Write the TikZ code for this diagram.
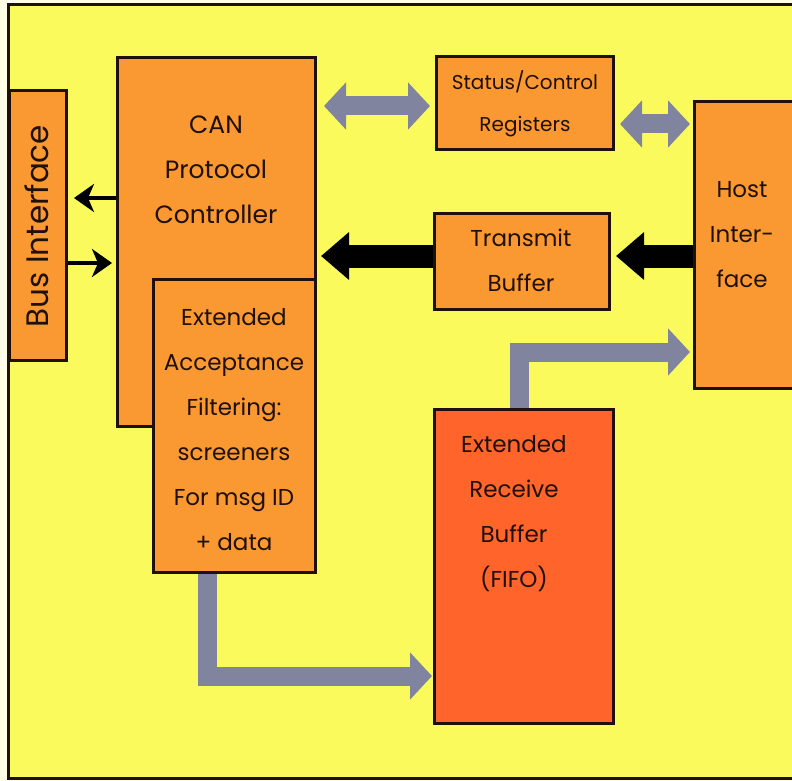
\documentclass[tikz,border=0pt]{standalone}
\usepackage{fontspec}
\setmainfont{Poppins}
\usetikzlibrary{arrows.meta,calc}
\definecolor{cream}{RGB}{255,255,232}
\definecolor{bgyellow}{RGB}{250,250,92}
\definecolor{boxorange}{RGB}{250,152,50}
\definecolor{fifored}{RGB}{255,100,42}
\definecolor{arrowgray}{RGB}{128,132,158}
\definecolor{edge}{RGB}{32,16,10}
\pgfdeclarelayer{back}
\pgfdeclarelayer{mid}
\pgfsetlayers{back,mid,main}
\tikzset{
  box/.style={draw=edge, line width=3pt, fill=boxorange, anchor=north west, inner sep=0pt},
  lbl/.style={align=center, inner sep=0pt, text=edge, font=\fontsize{23}{45}\selectfont},
  biglbl/.style={align=center, inner sep=0pt, text=edge, font=\fontsize{25}{45}\selectfont},
  smalllbl/.style={align=center, inner sep=0pt, text=edge, font=\fontsize{20}{42}\selectfont},
  sidelbl/.style={align=center, inner sep=0pt, text=edge, font=\fontsize{31}{40}\selectfont},
  grayflow/.style={draw=arrowgray, line width=19pt, line join=miter},
  blackflow/.style={draw=black, line width=23pt},
  thinflow/.style={draw=black, line width=4.5pt},
  gtip/.tip={Triangle[length=22pt,width=46pt]},
  btip/.tip={Triangle[length=28pt,width=46pt]},
  stip/.tip={Stealth[length=20pt,width=28pt,inset=6pt]}
}
\begin{document}
\begin{tikzpicture}[x=1pt,y=-1pt]
\useasboundingbox (0,0) rectangle (792,781);
\begin{pgfonlayer}{back}
\fill[cream] (0,0) rectangle (792,781);
\fill[bgyellow] (8,5) rectangle (792,778);
\draw[edge, line width=3pt] (800,5) -- (8,5) -- (8,778) -- (800,778);
\end{pgfonlayer}

% boxes
\node[box, minimum width=57pt, minimum height=270pt] (bus) at (8,89) {};
\node[box, minimum width=198pt, minimum height=369pt] (can) at (116,56) {};
\node[box, minimum width=162pt, minimum height=293pt] (acc) at (152,278) {};
\node[box, minimum width=177pt, minimum height=93pt] (reg) at (435,55) {};
\node[box, minimum width=175pt, minimum height=96pt] (tx) at (433,212) {};
\node[box, minimum width=120pt, minimum height=287pt] (host) at (693,100) {};
\node[box, fill=fifored, minimum width=179pt, minimum height=314pt] (fifo) at (433,408) {};

% labels
\node[sidelbl, rotate=90] (bustxt) at (37,226) {Bus Interface};
\node[biglbl] (cantxt) at (216,170) {CAN\\Protocol\\Controller};
\node[lbl] (acctxt) at (234,430) {Extended\\Acceptance\\Filtering:\\screeners\\For msg ID\\+ data};
\node[smalllbl] (regtxt) at (525,104) {Status/Control\\Registers};
\node[lbl] (txtxt) at (521,260) {Transmit\\Buffer};
\node[lbl] (hosttxt) at (742,235) {Host\\Inter-\\face};
\node[lbl] (fifotxt) at (514,514) {Extended\\Receive\\Buffer\\(FIFO)};

% helper coordinates
\coordinate (ya) at (0,106);
\coordinate (yb) at (0,124);
\coordinate (yc) at (0,256);
\coordinate (yd) at (0,352);
\coordinate (ye) at (0,676);
\coordinate (yf) at (0,198);
\coordinate (yg) at (0,263);

\begin{pgfonlayer}{mid}
\draw[grayflow, {gtip}-{gtip}, shorten <=7pt, shorten >=5pt] (can.east |- ya) -- (reg.west |- ya);
\draw[grayflow, {gtip}-{gtip}, shorten <=5pt, shorten >=3pt] (reg.east |- yb) -- (host.west |- yb);
\draw[blackflow, -{btip}, shorten >=5pt] (host.west |- yc) -- (tx.east |- yc);
\draw[blackflow, -{btip}, shorten >=4pt] (tx.west |- yc) -- (can.east |- yc);
\draw[thinflow, -{stip}, shorten >=6pt] (can.west |- yf) -- (bus.east |- yf);
\draw[thinflow, -{stip}, shorten >=4pt] (bus.east |- yg) -- (can.west |- yg);
\draw[grayflow, -{gtip}, shorten >=3pt] ($(fifo.north)+(-5,0)$) |- (host.west |- yd);
\draw[grayflow, -{gtip}, shorten >=1pt] ($(acc.south)+(-27,0)$) |- (fifo.west |- ye);
\end{pgfonlayer}
\end{tikzpicture}
\end{document}
